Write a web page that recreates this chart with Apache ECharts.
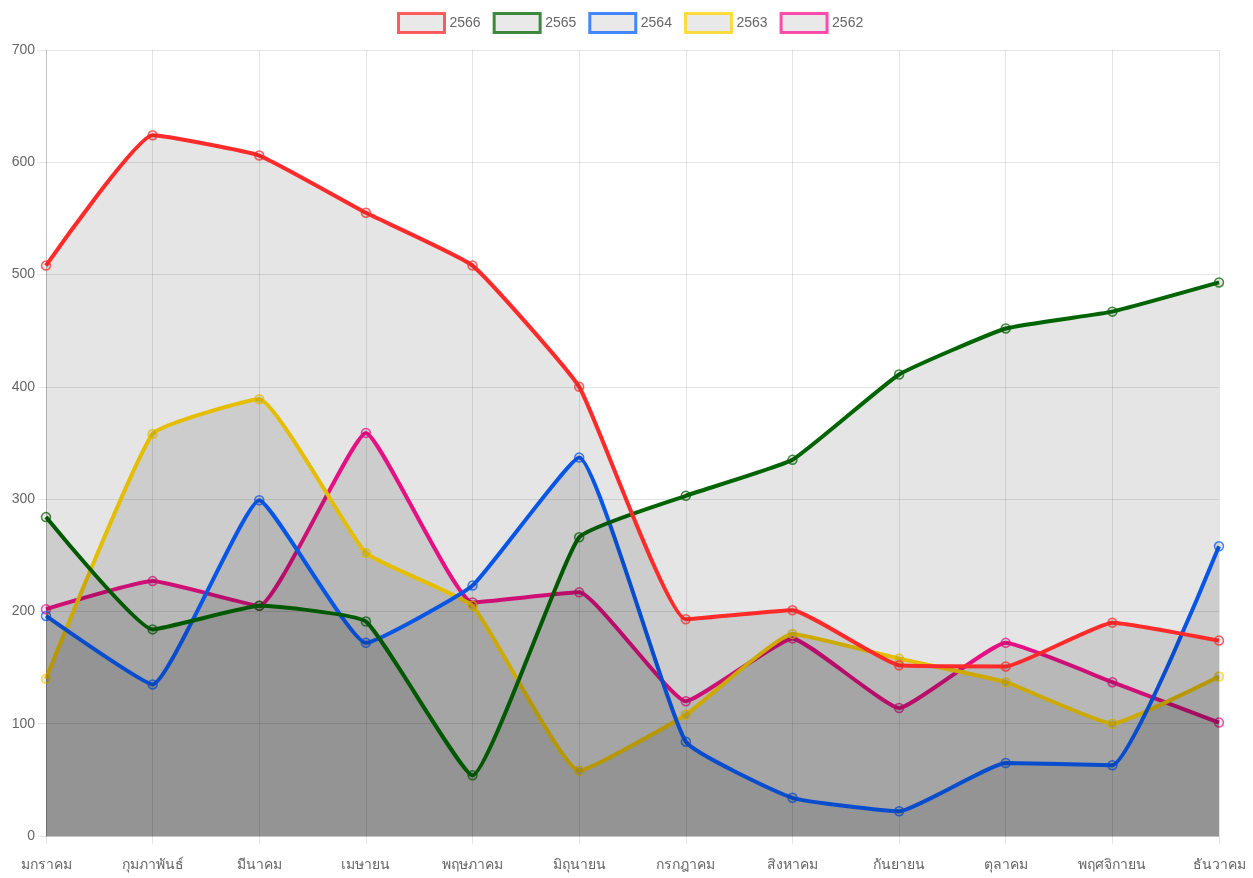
<!DOCTYPE html>
<html>
<head>
<meta charset="utf-8">
<script src="https://cdn.jsdelivr.net/npm/echarts@6/dist/echarts.min.js"></script>
<style>html,body{margin:0;padding:0;background:#fff;}#c{width:1253px;height:878px;}</style>
</head>
<body>
<div id="c"></div>
<script>
var months = ['มกราคม','กุมภาพันธ์','มีนาคม','เมษายน','พฤษภาคม','มิถุนายน','กรกฎาคม','สิงหาคม','กันยายน','ตุลาคม','พฤศจิกายน','ธันวาคม'];
var yTicks = [0,100,200,300,400,500,600,700];
var s2566 = [508,624,606,555,508,400,193,201,152,151,190,174];
var s2565 = [284,184,205,191,54,266,303,335,411,452,467,493];
var s2564 = [196,135,299,172,223,337,84,34,22,65,63,258];
var s2563 = [140,358,389,252,205,58,108,180,158,137,100,142];
var s2562 = [202,227,205,359,208,217,120,176,114,172,137,101];
var names = ['2566','2565','2564','2563','2562'];
var colors = ['#ff2a2a','#006400','#0a60ff','#ffd400','#ff1493'];
var datas = [s2566,s2565,s2564,s2563,s2562];

var font = '"Liberation Sans",Arial,sans-serif';
var series = [];
for (var i = names.length - 1; i >= 0; i--) {
  series.push({
    name: names[i], type: 'line', data: datas[i],
    smooth: 0.12,
    z: 10 - i,
    symbol: 'circle', symbolSize: 9,
    lineStyle: {color: colors[i], width: 4},
    itemStyle: {color: 'rgba(0,0,0,0.1)', borderColor: colors[i], borderWidth: 1.5, opacity: 0.75},
    areaStyle: {color: 'rgba(0,0,0,0.1)', opacity: 1, origin: 'start'},
    emphasis: {disabled: true}
  });
}
var chart = echarts.init(document.getElementById('c'), null, {renderer: 'canvas'});
chart.setOption({
  animation: false,
  backgroundColor: '#fff',
  legend: {
    top: 7, left: 392,
    itemWidth: 46, itemHeight: 19, itemGap: 12,
    icon: 'rect',
    textStyle: {color: '#666', fontSize: 14, fontFamily: font},
    data: names.map(function(n, i){ return {name: n, itemStyle: {color: '#e2e2e2', borderColor: colors[i], borderWidth: 3}}; })
  },
  grid: {left: 46, right: 34, top: 50, bottom: 42, containLabel: false},
  xAxis: {
    type: 'category', data: months, boundaryGap: false,
    axisLine: {lineStyle: {color: 'rgba(0,0,0,0.15)', width: 1}},
    axisTick: {show: true, length: 8, lineStyle: {color: 'rgba(0,0,0,0.1)'}},
    splitLine: {show: true, lineStyle: {color: 'rgba(0,0,0,0.1)'}},
    axisLabel: {color: '#666', fontSize: 14, margin: 22, fontFamily: font, interval: 0}
  },
  yAxis: {
    type: 'value', min: 0, max: 700, interval: 100,
    axisLine: {show: true, lineStyle: {color: 'rgba(0,0,0,0.15)'}},
    axisTick: {show: true, length: 8, lineStyle: {color: 'rgba(0,0,0,0.1)'}},
    splitLine: {show: true, lineStyle: {color: 'rgba(0,0,0,0.1)'}},
    axisLabel: {color: '#666', fontSize: 14, margin: 11, fontFamily: font,
      formatter: function(v){ return yTicks.indexOf(v) >= 0 ? String(v) : ''; }}
  },
  series: series
});
</script>
</body>
</html>
